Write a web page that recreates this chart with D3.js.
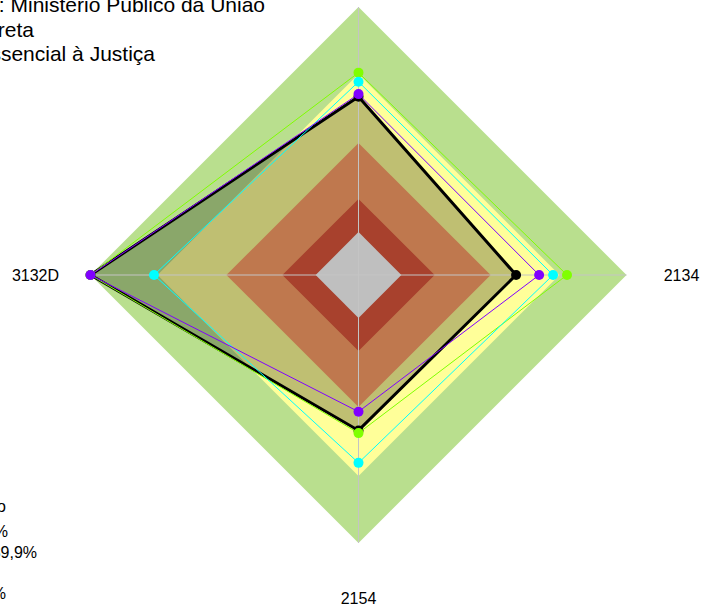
<!DOCTYPE html>
<html>
<head>
<meta charset="utf-8">
<script src="https://cdn.jsdelivr.net/npm/d3@7"></script>
<style>
  html, body { margin: 0; padding: 0; background: #fff; }
  svg { display: block; font-family: "Liberation Sans", Arial, sans-serif; }
</style>
</head>
<body>
<svg id="chart" width="701" height="608"></svg>
<script>
// Axes of the radar, clockwise from the top
const axisLabels = ["2133", "2134", "2154", "3132D"];

// Series values (percent of the outer ring), same axis order
const serieReferencia = [66.5, 58.8, 58.0, 100];
const serie2021 = [75.5, 77.8, 59.0, 100];
const serie2022 = [72.1, 72.6, 70.1, 76.3];
const serie2023 = [67.5, 67.4, 51.0, 100];

// Background performance bands (upper limits, percent)
const bandLimits = [16, 28.4, 49.3, 75, 100];
const bandColors = ["#ffffff", "#e0573c", "#ffa168", "#ffff99", "#b9df8e"];

// Title and legend text
const titleLines = [
  "Órgão: Ministério Público da União",
  "Administração Direta",
  "Função Essencial à Justiça"
];
const legendTitle = "Nível de desempenho";
const legendItems = [
  "Excelente: 90% a 100%",
  "Bom: 70% a 89,9%",
  "Regular",
  "Crítico: abaixo de 50%"
];

const svg = d3.select("#chart");
const cx = 358.5, cy = 275;
const r = d3.scaleLinear().domain([0, 100]).range([0, 268]);
const n = axisLabels.length;
const angle = i => i * 2 * Math.PI / n;

const radar = d3.lineRadial()
  .angle((d, i) => angle(i))
  .radius(d => r(d))
  .curve(d3.curveLinearClosed);

const g = svg.append("g").attr("transform", `translate(${cx},${cy})`);

// bands, outermost first
const bands = bandLimits.map((lim, i) => ({ lim, color: bandColors[i] })).reverse();
g.selectAll("path.band")
  .data(bands)
  .join("path")
  .attr("class", "band")
  .attr("d", d => radar(d3.range(n).map(() => d.lim)))
  .attr("fill", d => d.color);

// reference series area (translucent)
g.append("path")
  .attr("d", radar(serieReferencia))
  .attr("fill", "#000")
  .attr("fill-opacity", 0.25);

// spokes
g.selectAll("line.spoke")
  .data(d3.range(n))
  .join("line")
  .attr("class", "spoke")
  .attr("x1", 0).attr("y1", 0)
  .attr("x2", i => r(100) * Math.sin(angle(i)))
  .attr("y2", i => -r(100) * Math.cos(angle(i)))
  .attr("stroke", "#c4c4c4")
  .attr("stroke-width", 1);

const series = [
  { values: serieReferencia, color: "#000000", width: 3 },
  { values: serie2021, color: "#80ff00", width: 1 },
  { values: serie2022, color: "#00ffff", width: 1 },
  { values: serie2023, color: "#8000ff", width: 1 }
];

series.forEach(s => {
  g.append("path")
    .attr("d", radar(s.values))
    .attr("fill", "none")
    .attr("stroke", s.color)
    .attr("stroke-width", s.width);
  g.selectAll(null)
    .data(s.values)
    .join("circle")
    .attr("cx", (d, i) => r(d) * Math.sin(angle(i)))
    .attr("cy", (d, i) => -r(d) * Math.cos(angle(i)))
    .attr("r", 5)
    .attr("fill", s.color);
});

// axis labels
const labelR = 323;
g.selectAll("text.axis")
  .data(axisLabels)
  .join("text")
  .attr("class", "axis")
  .attr("x", (d, i) => labelR * Math.sin(angle(i)))
  .attr("y", (d, i) => -labelR * Math.cos(angle(i)))
  .attr("dy", "0.35em")
  .attr("text-anchor", "middle")
  .attr("font-size", 16)
  .attr("fill", "#000")
  .text(d => d);

// title, right-aligned block
const titleRight = [265, 34, 155];
svg.append("g").selectAll("text")
  .data(titleLines)
  .join("text")
  .attr("x", (d, i) => titleRight[i])
  .attr("y", (d, i) => 12 + i * 24.5)
  .attr("text-anchor", "end")
  .attr("font-size", 21)
  .attr("fill", "#000")
  .text(d => d);

// legend
const legend = svg.append("g");
legend.append("text")
  .attr("x", 6).attr("y", 512)
  .attr("text-anchor", "end")
  .attr("font-size", 16)
  .text(legendTitle);
const legendRight = [8, 37, -4, 6];
legend.selectAll("text.item")
  .data(legendItems)
  .join("text")
  .attr("class", "item")
  .attr("x", (d, i) => legendRight[i])
  .attr("y", (d, i) => 537 + i * 20.7)
  .attr("text-anchor", "end")
  .attr("font-size", 16)
  .text(d => d);
</script>
</body>
</html>
